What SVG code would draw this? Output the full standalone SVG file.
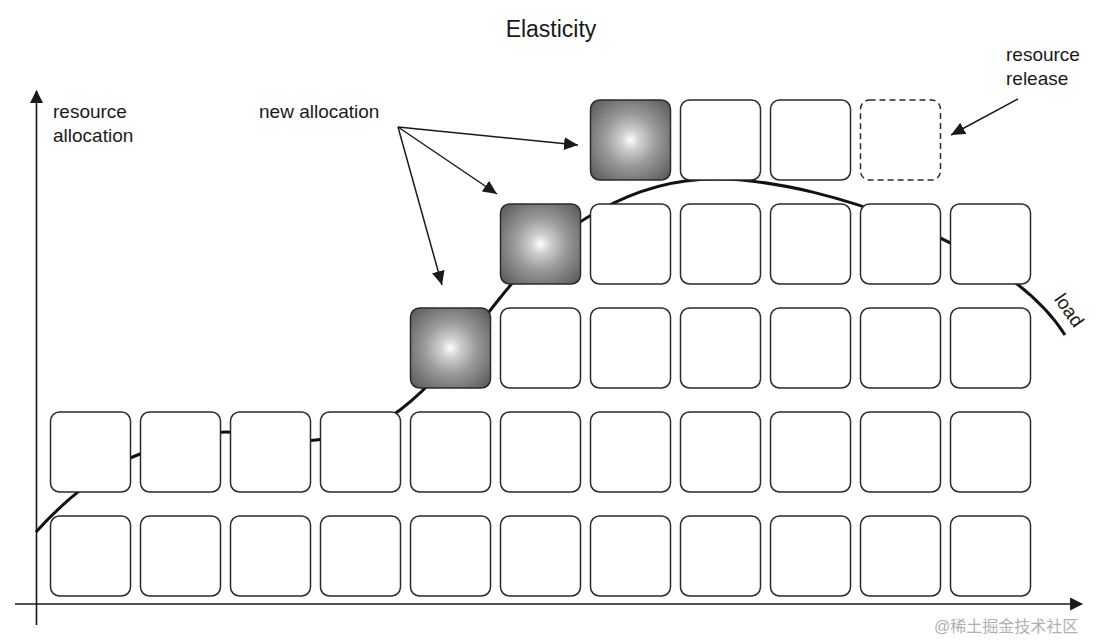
<svg xmlns="http://www.w3.org/2000/svg" width="1098" height="641" viewBox="0 0 1098 641">
<style>
text{font-family:"Liberation Sans",Arial,sans-serif;fill:#1a1a1a}
.box{fill:#fff;stroke:#2a2a2a;stroke-width:1.5}
.gray{fill:url(#rg);stroke:#2a2a2a;stroke-width:1.5}
.dash{fill:#fff;stroke:#2a2a2a;stroke-width:1.5;stroke-dasharray:6 4}
.ax{stroke:#1a1a1a;stroke-width:1.6;fill:none}
.ar{stroke:#1a1a1a;stroke-width:1.5;fill:none;marker-end:url(#ah)}
.load{stroke:#111;stroke-width:3;fill:none}
</style>
<defs>
<radialGradient id="rg" cx="0.5" cy="0.5" r="0.65">
<stop offset="0" stop-color="#ffffff"/>
<stop offset="0.18" stop-color="#d0d0d0"/>
<stop offset="0.5" stop-color="#9a9a9a"/>
<stop offset="1" stop-color="#5e5e5e"/>
</radialGradient>
<marker id="ah" viewBox="0 0 14 13" refX="14" refY="6.5" markerWidth="14" markerHeight="13" markerUnits="userSpaceOnUse" orient="auto">
<path d="M0,0 L14,6.5 L0,13 z" fill="#1a1a1a"/>
</marker>
<marker id="axh" viewBox="0 0 12 12" refX="11" refY="6" markerWidth="13" markerHeight="13" markerUnits="userSpaceOnUse" orient="auto">
<path d="M0,0 L12,6 L0,12 z" fill="#1a1a1a"/>
</marker>
</defs>
<text x="551" y="37" font-size="23" text-anchor="middle">Elasticity</text>
<g id="axes">
<line class="ax" x1="36.5" y1="625" x2="36.5" y2="91" marker-end="url(#axh)"/>
<line class="ax" x1="15" y1="604" x2="1082" y2="604" marker-end="url(#axh)"/>
</g>
<text x="53" y="118" font-size="19">resource</text>
<text x="53" y="142" font-size="19">allocation</text>
<g id="load-curve">
<path class="load" d="M36,532 C60,505 100,470 135,456 C170,442 200,432 226,432 C260,432 290,444 316,440 C350,436 380,425 400,410 C440,380 470,335 500,298 C530,260 560,232 600,210 C640,188 680,178 720,179 C780,180 850,200 900,220 C960,245 1030,280 1065,335"/>
</g>
<text x="1068" y="311" font-size="19" text-anchor="middle" transform="rotate(55 1068 311)" dominant-baseline="middle">load</text>
<g id="row1">
<rect class="box" x="50.5" y="516" width="80" height="80" rx="9"/>
<rect class="box" x="140.5" y="516" width="80" height="80" rx="9"/>
<rect class="box" x="230.5" y="516" width="80" height="80" rx="9"/>
<rect class="box" x="320.5" y="516" width="80" height="80" rx="9"/>
<rect class="box" x="410.5" y="516" width="80" height="80" rx="9"/>
<rect class="box" x="500.5" y="516" width="80" height="80" rx="9"/>
<rect class="box" x="590.5" y="516" width="80" height="80" rx="9"/>
<rect class="box" x="680.5" y="516" width="80" height="80" rx="9"/>
<rect class="box" x="770.5" y="516" width="80" height="80" rx="9"/>
<rect class="box" x="860.5" y="516" width="80" height="80" rx="9"/>
<rect class="box" x="950.5" y="516" width="80" height="80" rx="9"/>
</g>
<g id="row2">
<rect class="box" x="50.5" y="412" width="80" height="80" rx="9"/>
<rect class="box" x="140.5" y="412" width="80" height="80" rx="9"/>
<rect class="box" x="230.5" y="412" width="80" height="80" rx="9"/>
<rect class="box" x="320.5" y="412" width="80" height="80" rx="9"/>
<rect class="box" x="410.5" y="412" width="80" height="80" rx="9"/>
<rect class="box" x="500.5" y="412" width="80" height="80" rx="9"/>
<rect class="box" x="590.5" y="412" width="80" height="80" rx="9"/>
<rect class="box" x="680.5" y="412" width="80" height="80" rx="9"/>
<rect class="box" x="770.5" y="412" width="80" height="80" rx="9"/>
<rect class="box" x="860.5" y="412" width="80" height="80" rx="9"/>
<rect class="box" x="950.5" y="412" width="80" height="80" rx="9"/>
</g>
<g id="row3">
<rect class="gray" x="410.5" y="308" width="80" height="80" rx="9"/>
<rect class="box" x="500.5" y="308" width="80" height="80" rx="9"/>
<rect class="box" x="590.5" y="308" width="80" height="80" rx="9"/>
<rect class="box" x="680.5" y="308" width="80" height="80" rx="9"/>
<rect class="box" x="770.5" y="308" width="80" height="80" rx="9"/>
<rect class="box" x="860.5" y="308" width="80" height="80" rx="9"/>
<rect class="box" x="950.5" y="308" width="80" height="80" rx="9"/>
</g>
<g id="row4">
<rect class="gray" x="500.5" y="204" width="80" height="80" rx="9"/>
<rect class="box" x="590.5" y="204" width="80" height="80" rx="9"/>
<rect class="box" x="680.5" y="204" width="80" height="80" rx="9"/>
<rect class="box" x="770.5" y="204" width="80" height="80" rx="9"/>
<rect class="box" x="860.5" y="204" width="80" height="80" rx="9"/>
<rect class="box" x="950.5" y="204" width="80" height="80" rx="9"/>
</g>
<g id="row5">
<rect class="gray" x="590.5" y="100" width="80" height="80" rx="9"/>
<rect class="box" x="680.5" y="100" width="80" height="80" rx="9"/>
<rect class="box" x="770.5" y="100" width="80" height="80" rx="9"/>
<rect class="dash" x="860.5" y="100" width="80" height="80" rx="9"/>
</g>
<text x="259" y="118" font-size="19">new allocation</text>
<text x="1006" y="61" font-size="19">resource</text>
<text x="1006" y="85" font-size="19">release</text>
<g id="connectors">
<line class="ar" x1="398" y1="127" x2="578" y2="145"/>
<line class="ar" x1="398" y1="127" x2="497" y2="194"/>
<line class="ar" x1="398" y1="127" x2="442" y2="285"/>
<line class="ar" x1="1018" y1="99" x2="951" y2="135"/>
</g>
<text x="934" y="632" font-size="16" style="font-family:'Liberation Sans','Noto Sans CJK SC',sans-serif;fill:#b0b0b0">@稀土掘金技术社区</text>
</svg>
